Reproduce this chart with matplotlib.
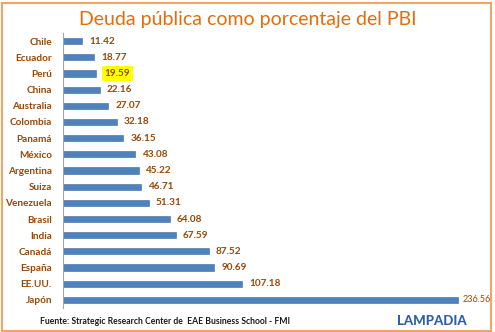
import matplotlib.pyplot as plt
from matplotlib.patches import FancyBboxPatch

paises = ['Chile', 'Ecuador', 'Perú', 'China', 'Australia', 'Colombia', 'Panamá',
          'México', 'Argentina', 'Suiza', 'Venezuela', 'Brasil', 'India', 'Canadá',
          'España', 'EE.UU.', 'Japón']
deuda = [11.42, 18.77, 19.59, 22.16, 27.07, 32.18, 36.15, 43.08, 45.22, 46.71,
         51.31, 64.08, 67.59, 87.52, 90.69, 107.18, 236.56]
destacado = 'Perú'

marron = '#984807'
azul = '#4F81BD'
naranja = '#E46C0A'

plt.rcParams['font.family'] = ['Lato', 'DejaVu Sans']

fig = plt.figure(figsize=(4.95, 3.32), dpi=100)
W, H = 495, 332
ax = fig.add_axes([63 / W, 1 - 308 / H, (480 - 63) / W, (308 - 33) / H])

pos = list(range(len(paises)))
ax.barh(pos, deuda, height=0.38, color=azul, edgecolor='#3A6AA5', linewidth=0.4)
ax.set_ylim(len(paises) - 0.5, -0.5)
ax.set_xlim(0, (480 - 63) / 1.67)

ax.set_yticks(pos)
ax.set_yticklabels(paises, fontsize=7.2, fontweight='bold', color=marron)
ax.tick_params(axis='y', length=0, pad=8)
ax.set_xticks([])
for s in ['top', 'right', 'bottom']:
    ax.spines[s].set_visible(False)
ax.spines['left'].set_color('#A6A6A6')
ax.spines['left'].set_linewidth(0.8)

for i, (p, v) in enumerate(zip(paises, deuda)):
    if p == destacado:
        ax.annotate(f'{v:.2f}', (v, i), xytext=(6.5, 0), textcoords='offset points',
                    va='center', ha='left', fontsize=7.2, fontweight='bold', color=marron,
                    bbox=dict(boxstyle='square,pad=0.3', fc='#FFFF00', ec='none'))
    elif p == 'Japón':
        ax.annotate(f'{v:.2f}', (v, i), xytext=(3, 0), textcoords='offset points',
                    va='center', ha='left', fontsize=6.5, color=marron)
    else:
        ax.annotate(f'{v:.2f}', (v, i), xytext=(5, 0), textcoords='offset points',
                    va='center', ha='left', fontsize=7.2, fontweight='bold', color=marron)

fig.text(248 / W, 1 - 20 / H, 'Deuda pública como porcentaje del PBI', ha='center',
         va='center', fontsize=14, color=naranja)
fig.text(40 / W, 1 - 322 / H, 'Fuente: Strategic Research Center de  EAE Business School - FMI',
         ha='left', va='center', fontsize=6.2, fontweight='bold', color='#1A1A1A')
fig.text(432 / W, 1 - 321 / H, 'LAMPADIA', ha='center', va='center', fontsize=9.5,
         fontweight='black', color='#2E5FA8')

borde = FancyBboxPatch((2 / W, 1.5 / H), 489 / W, 328 / H, boxstyle='square,pad=0',
                       transform=fig.transFigure, fill=False, ec='#F2A365', lw=1.5)
fig.patches.append(borde)

fig.savefig('out.png', dpi=100)
